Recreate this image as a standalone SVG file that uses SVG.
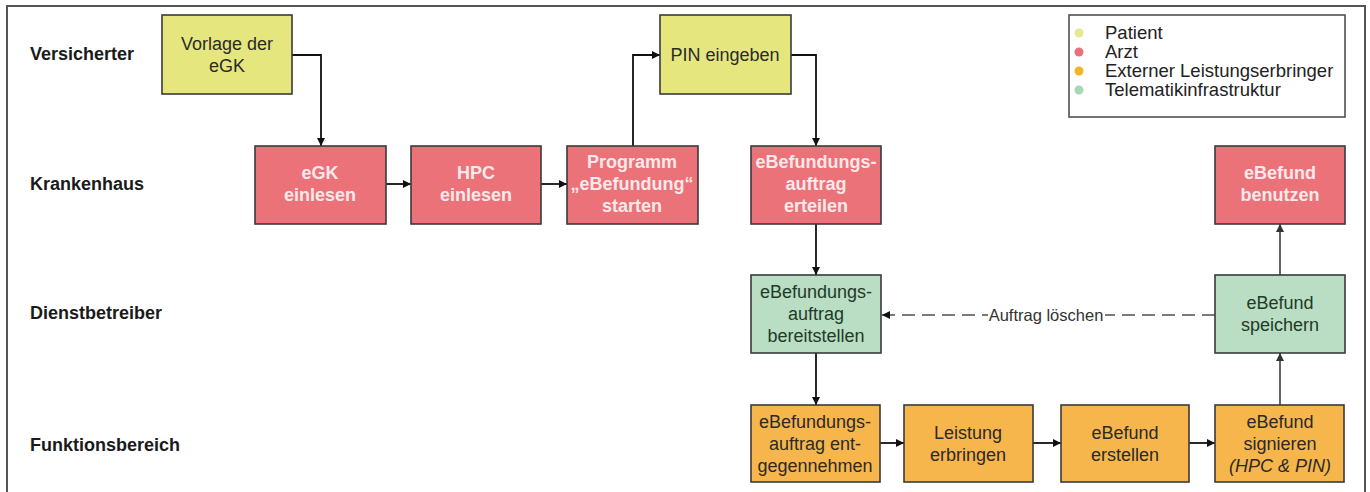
<svg xmlns="http://www.w3.org/2000/svg" width="1370" height="492" viewBox="0 0 1370 492">
<style>
.lane{font-family:"Liberation Sans",Arial,sans-serif;font-weight:bold;font-size:18px;fill:#1a1a1a}
.box{stroke:#3a3a3a;stroke-width:1.6}
.y{fill:#e6e67e}
.r{fill:#ec727a}
.g{fill:#b9dec3}
.o{fill:#f7b64c}
.t{font-family:"Liberation Sans",Arial,sans-serif;font-size:18px;text-anchor:middle;fill:#2a2a2a}
.tw{font-family:"Liberation Sans",Arial,sans-serif;font-size:18px;font-weight:bold;text-anchor:middle;fill:#fbe9ea}
.tg{font-family:"Liberation Sans",Arial,sans-serif;font-size:18px;text-anchor:middle;fill:#1f3a28}
.leg{font-family:"Liberation Sans",Arial,sans-serif;font-size:18.5px;fill:#222}
.c{fill:none;stroke:#111;stroke-width:1.8}
.cg{fill:none;stroke:#555;stroke-width:1.8}
</style>
<defs>
<marker id="ah" viewBox="0 0 10 10" refX="10" refY="5" markerWidth="8" markerHeight="8" markerUnits="userSpaceOnUse" orient="auto">
<path d="M0,0 L10,5 L0,10 z" fill="#111"/>
</marker>
<marker id="ahg" viewBox="0 0 10 10" refX="10" refY="5" markerWidth="8" markerHeight="8" markerUnits="userSpaceOnUse" orient="auto">
<path d="M0,0 L10,5 L0,10 z" fill="#333"/>
</marker>
</defs>
<rect x="0" y="0" width="1370" height="492" fill="#fff"/>
<path d="M7,492 V6 H1365 V492" fill="none" stroke="#555" stroke-width="2"/>

<g id="lanes">
<text class="lane" x="30" y="60">Versicherter</text>
<text class="lane" x="30" y="190">Krankenhaus</text>
<text class="lane" x="30" y="319">Dienstbetreiber</text>
<text class="lane" x="30" y="451">Funktionsbereich</text>
</g>

<g id="legend">
<rect x="1069" y="15" width="276" height="102" fill="#fff" stroke="#444" stroke-width="1.5"/>
<circle cx="1079" cy="33" r="4.5" fill="#e8e890"/>
<circle cx="1079" cy="52" r="4.5" fill="#ec707a"/>
<circle cx="1079" cy="71" r="4.5" fill="#f2b526"/>
<circle cx="1079" cy="90" r="4.5" fill="#a9d8b4"/>
<text class="leg" x="1105" y="39">Patient</text>
<text class="leg" x="1105" y="58">Arzt</text>
<text class="leg" x="1105" y="77">Externer Leistungserbringer</text>
<text class="leg" x="1105" y="96">Telematikinfrastruktur</text>
</g>

<g id="connectors">
<path class="c" d="M292,55 H321 V146" marker-end="url(#ah)"/>
<path class="c" d="M386,184 H411" marker-end="url(#ah)"/>
<path class="c" d="M541,184 H567" marker-end="url(#ah)"/>
<path class="c" d="M633,146 V55 H660" marker-end="url(#ah)"/>
<path class="c" d="M791,55 H816 V146" marker-end="url(#ah)"/>
<path class="c" d="M816,224 V275" marker-end="url(#ah)"/>
<path class="c" d="M816,353 V405" marker-end="url(#ah)"/>
<path class="c" d="M879,443 H904" marker-end="url(#ah)"/>
<path class="c" d="M1033,443 H1061" marker-end="url(#ah)"/>
<path class="c" d="M1189,443 H1215" marker-end="url(#ah)"/>
<path class="cg" d="M1280,405 V353" marker-end="url(#ahg)"/>
<path class="cg" d="M1280,275 V224" marker-end="url(#ahg)"/>
<path d="M1215,315 H882" fill="none" stroke="#7a7a7a" stroke-width="2.2" stroke-dasharray="13,7" marker-end="url(#ah)"/>
<rect x="988" y="304" width="117" height="22" fill="#fff"/>
<text class="t" x="1046" y="321" style="font-size:16.5px;fill:#333">Auftrag löschen</text>
</g>

<g id="n-vorlage">
<rect class="box y" x="162" y="15" width="130" height="79"/>
<text class="t" x="227" y="50">Vorlage der</text>
<text class="t" x="227" y="72">eGK</text>
</g>
<g id="n-pin">
<rect class="box y" x="660" y="15" width="131" height="79"/>
<text class="t" x="725" y="61">PIN eingeben</text>
</g>
<g id="n-egk">
<rect class="box r" x="255" y="146" width="131" height="78"/>
<text class="tw" x="320" y="179">eGK</text>
<text class="tw" x="320" y="201">einlesen</text>
</g>
<g id="n-hpc">
<rect class="box r" x="411" y="146" width="130" height="78"/>
<text class="tw" x="476" y="179">HPC</text>
<text class="tw" x="476" y="201">einlesen</text>
</g>
<g id="n-programm">
<rect class="box r" x="567" y="146" width="131" height="78"/>
<text class="tw" x="632" y="168">Programm</text>
<text class="tw" x="632" y="190">„eBefundung“</text>
<text class="tw" x="632" y="212">starten</text>
</g>
<g id="n-erteilen">
<rect class="box r" x="751" y="146" width="130" height="78"/>
<text class="tw" x="816" y="168">eBefundungs-</text>
<text class="tw" x="816" y="190">auftrag</text>
<text class="tw" x="816" y="212">erteilen</text>
</g>
<g id="n-benutzen">
<rect class="box r" x="1215" y="146" width="130" height="78"/>
<text class="tw" x="1280" y="179">eBefund</text>
<text class="tw" x="1280" y="201">benutzen</text>
</g>
<g id="n-bereitstellen">
<rect class="box g" x="751" y="275" width="130" height="78"/>
<text class="tg" x="816" y="298">eBefundungs-</text>
<text class="tg" x="816" y="320">auftrag</text>
<text class="tg" x="816" y="342">bereitstellen</text>
</g>
<g id="n-speichern">
<rect class="box g" x="1215" y="275" width="130" height="78"/>
<text class="tg" x="1280" y="309">eBefund</text>
<text class="tg" x="1280" y="331">speichern</text>
</g>
<g id="n-entgegennehmen">
<rect class="box o" x="751" y="405" width="129" height="77"/>
<text class="t" x="815" y="428">eBefundungs-</text>
<text class="t" x="815" y="450">auftrag ent-</text>
<text class="t" x="815" y="472">gegennehmen</text>
</g>
<g id="n-leistung">
<rect class="box o" x="904" y="405" width="129" height="77"/>
<text class="t" x="968" y="439">Leistung</text>
<text class="t" x="968" y="461">erbringen</text>
</g>
<g id="n-erstellen">
<rect class="box o" x="1061" y="405" width="128" height="77"/>
<text class="t" x="1125" y="439">eBefund</text>
<text class="t" x="1125" y="461">erstellen</text>
</g>
<g id="n-signieren">
<rect class="box o" x="1215" y="405" width="129" height="77"/>
<text class="t" x="1280" y="428">eBefund</text>
<text class="t" x="1280" y="450">signieren</text>
<text class="t" x="1280" y="472" font-style="italic">(HPC &amp; PIN)</text>
</g>
</svg>
